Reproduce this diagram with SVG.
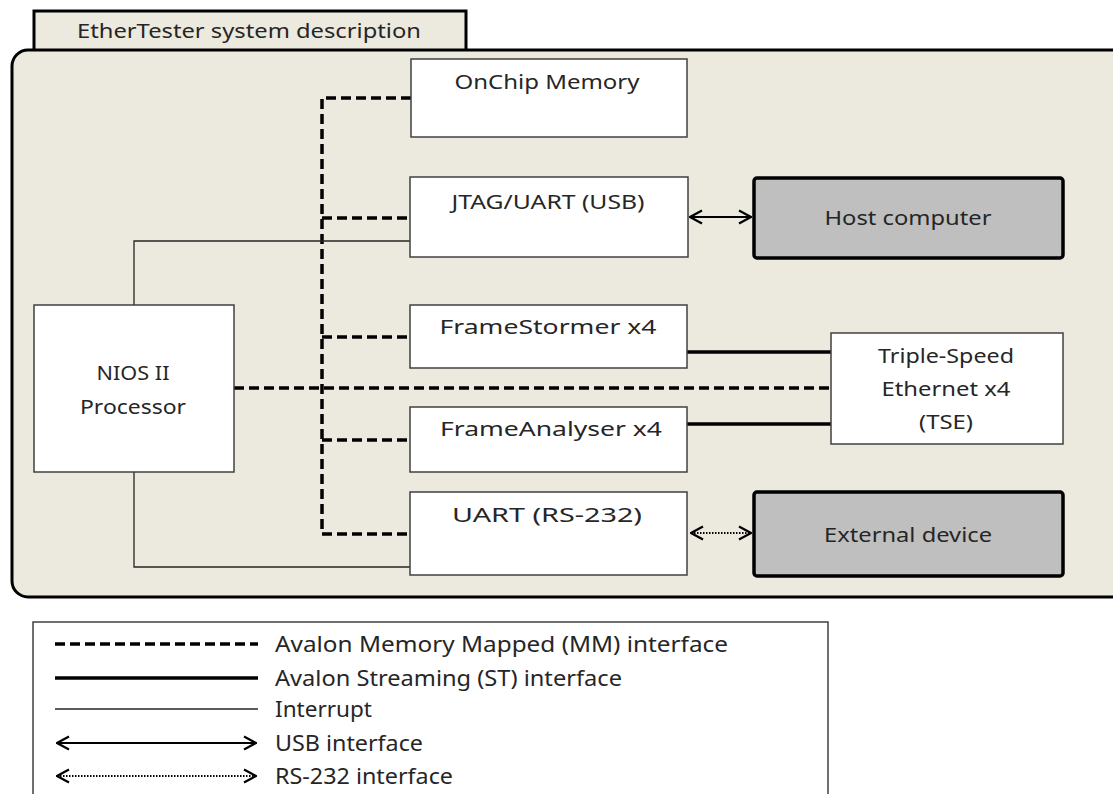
<svg xmlns="http://www.w3.org/2000/svg" width="1113" height="794" viewBox="0 0 1113 794">
<style>
text{font-family:"Noto Sans","Open Sans","Liberation Sans",sans-serif;fill:#262626;text-anchor:middle;font-size:20px}
.box{fill:#fff;stroke:#404040;stroke-width:1.5}
.ext{fill:#bfbfbf;stroke:#000;stroke-width:3.5}
.mm{fill:none;stroke:#000;stroke-width:3.5;stroke-dasharray:10 5}
.st{fill:none;stroke:#000;stroke-width:3.5}
.irq{fill:none;stroke:#262626;stroke-width:1.3}
.usb{fill:none;stroke:#000;stroke-width:2}
.rs{fill:none;stroke:#000;stroke-width:2;stroke-dasharray:1.5 1.5}
.lg{text-anchor:start;font-size:22.5px}
</style>
<defs>
<marker id="ah" viewBox="0 0 14 16" refX="13" refY="8" markerWidth="14" markerHeight="16" markerUnits="userSpaceOnUse" orient="auto-start-reverse">
<path d="M1,1.5 L13,8 L1,14.5" fill="none" stroke="#000" stroke-width="2.2"/>
</marker>
</defs>
<rect width="1113" height="794" fill="#fff"/>
<g id="frame">
<rect x="34" y="11" width="432" height="42" fill="#ece9df" stroke="#000" stroke-width="3"/>
<text x="249" y="38" textLength="344" lengthAdjust="spacingAndGlyphs">EtherTester  system description</text>
<rect x="12" y="50" width="1118" height="547" rx="16" fill="#ece9df" stroke="#000" stroke-width="3"/>
</g>
<g id="connectors">
<path class="mm" d="M411,98 H322 V534 H410"/>
<path class="mm" d="M322,218 H410 M322,337 H410 M322,440 H410"/>
<path class="mm" d="M234,388 H831"/>
<path class="irq" d="M410,241 H134 V305 M134,472 V567 H410"/>
<path class="st" d="M687,352 H831 M687,424 H831"/>
<path class="usb" d="M690,217 H751" marker-start="url(#ah)" marker-end="url(#ah)"/>
<path class="rs" d="M691,533 H751" marker-start="url(#ah)" marker-end="url(#ah)"/>
</g>
<g id="onchip"><rect class="box" x="411" y="59" width="276" height="78"/><text x="547" y="89" textLength="185" lengthAdjust="spacingAndGlyphs">OnChip Memory</text></g>
<g id="jtag"><rect class="box" x="410" y="177" width="278" height="80"/><text x="548" y="209" textLength="193" lengthAdjust="spacingAndGlyphs">JTAG/UART  (USB)</text></g>
<g id="host"><rect class="ext" x="754" y="178" width="309" height="80" rx="3"/><text x="908" y="225" textLength="167" lengthAdjust="spacingAndGlyphs">Host computer</text></g>
<g id="nios"><rect class="box" x="34" y="305" width="200" height="167"/><text x="133" y="380" textLength="73" lengthAdjust="spacingAndGlyphs">NIOS II</text><text x="133" y="414" textLength="106" lengthAdjust="spacingAndGlyphs">Processor</text></g>
<g id="framestormer"><rect class="box" x="410" y="305" width="277" height="63"/><text x="548" y="334" textLength="217" lengthAdjust="spacingAndGlyphs">FrameStormer x4</text></g>
<g id="frameanalyser"><rect class="box" x="410" y="407" width="277" height="65"/><text x="551" y="436" textLength="222" lengthAdjust="spacingAndGlyphs">FrameAnalyser x4</text></g>
<g id="uart"><rect class="box" x="410" y="492" width="277" height="83"/><text x="547" y="522" textLength="190" lengthAdjust="spacingAndGlyphs">UART (RS-232)</text></g>
<g id="tse"><rect class="box" x="831" y="333" width="232" height="111"/><text x="946" y="363" textLength="136" lengthAdjust="spacingAndGlyphs">Triple-Speed</text><text x="946" y="396" textLength="129" lengthAdjust="spacingAndGlyphs">Ethernet x4</text><text x="946" y="429" textLength="54" lengthAdjust="spacingAndGlyphs">(TSE)</text></g>
<g id="external"><rect class="ext" x="754" y="492" width="309" height="84" rx="3"/><text x="908" y="542" textLength="168" lengthAdjust="spacingAndGlyphs">External  device</text></g>
<g id="legend">
<rect x="33" y="622" width="795" height="190" fill="#fff" stroke="#404040" stroke-width="1.5"/>
<path class="mm" d="M55,644 H258"/>
<path class="st" d="M55,678 H258"/>
<path class="irq" d="M55,709 H258"/>
<path class="usb" d="M57,743 H256" marker-start="url(#ah)" marker-end="url(#ah)"/>
<path class="rs" d="M57,776 H256" marker-start="url(#ah)" marker-end="url(#ah)"/>
<text class="lg" x="275" y="652" textLength="453" lengthAdjust="spacingAndGlyphs">Avalon Memory Mapped (MM) interface</text>
<text class="lg" x="275" y="686" textLength="347" lengthAdjust="spacingAndGlyphs">Avalon Streaming (ST) interface</text>
<text class="lg" x="275" y="717" textLength="97" lengthAdjust="spacingAndGlyphs">Interrupt</text>
<text class="lg" x="275" y="751" textLength="148" lengthAdjust="spacingAndGlyphs">USB interface</text>
<text class="lg" x="275" y="784" textLength="178" lengthAdjust="spacingAndGlyphs">RS-232 interface</text>
</g>
</svg>
